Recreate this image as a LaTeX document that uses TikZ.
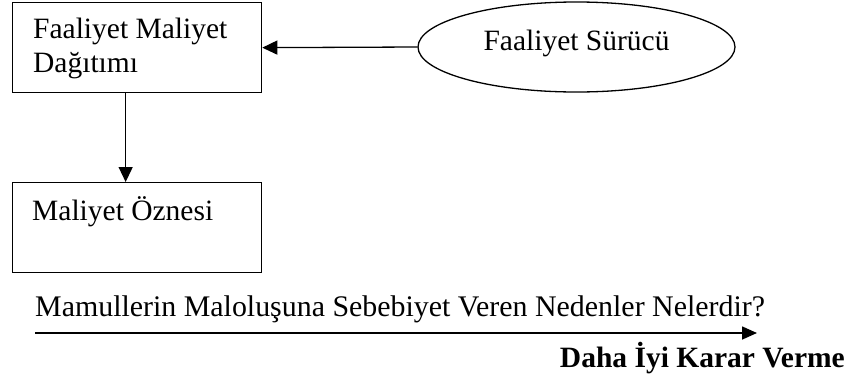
\documentclass[tikz,border=0pt]{standalone}
\usepackage{fontspec}
\setmainfont{Liberation Serif}
\usetikzlibrary{shapes.geometric,arrows.meta}

\tikzset{
  x=1pt, y=1pt,
  boxnode/.style={draw, line width=1.3pt, rectangle, inner sep=0pt,
                  minimum width=249pt, minimum height=90pt, anchor=north west},
  drivernode/.style={draw, line width=1.3pt, ellipse, inner sep=0pt,
                     minimum width=317pt, minimum height=90pt,
                     text height=18pt, text depth=12pt,
                     font=\fontsize{29.5}{34}\selectfont},
  label/.style={inner sep=0pt, anchor=base west, align=left,
                font=\fontsize{29.5}{34}\selectfont},
  arr/.style={line width=1.3pt, -{Triangle[length=15pt,width=14pt]}},
}

\begin{document}
\begin{tikzpicture}
  \useasboundingbox (0,0) rectangle (855,-381);

  % boxes
  \node[boxnode] (dist) at (12,-2) {};
  \node[boxnode] (obj)  at (12,-182) {};
  % base anchor of a two-line node sits on its last line
  \node[label] (distText) at ([xshift=21pt,yshift=-70pt]dist.north west)
       {Faaliyet Maliyet\\Dağıtımı};
  \node[label] (objText) at ([xshift=20pt,yshift=-38pt]obj.north west)
       {Maliyet Öznesi};

  % activity driver
  \node[drivernode] (drv) at (576.5,-47) {Faaliyet Sürücü};

  % connectors
  \draw[arr] (drv.west) -- (dist.east);
  \draw[arr] ([xshift=-11.5pt]dist.south) -- ([xshift=-11.5pt]obj.north);

  % question and decision arrow
  \node[label, font=\fontsize{29.9}{34}\selectfont] (quest) at (35,-316)
       {Mamullerin Maloluşuna Sebebiyet Veren Nedenler Nelerdir?};
  \coordinate (qs) at (35,-333);
  \coordinate (qe) at (757,-333);
  \draw[line width=1.6pt, -{Triangle[length=15pt,width=13pt]}] (qs) -- (qe);
  \node[inner sep=0pt, anchor=base east, font=\fontsize{29.5}{34}\selectfont\bfseries]
       (decide) at (845,-367) {Daha İyi Karar Verme};
\end{tikzpicture}
\end{document}
